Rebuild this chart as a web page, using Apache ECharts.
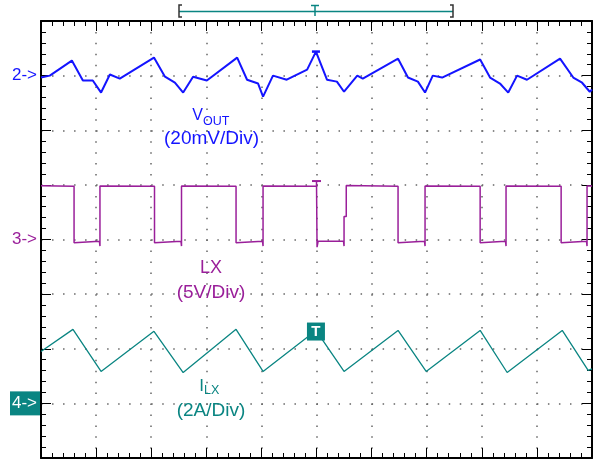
<!DOCTYPE html>
<html>
<head>
<meta charset="utf-8">
<script src="https://cdn.jsdelivr.net/npm/echarts@6/dist/echarts.min.js"></script>
<style>
html, body { margin: 0; padding: 0; background: #fff; }
#scope { width: 597px; height: 460px; }
</style>
</head>
<body>
<div id="scope"></div>
<script>
// 示波器截图：时间按格（div），各通道用自身单位
var vout = [[0,-0.7],[0.16,0],[0.56,5.5],[0.76,-1.8],[0.94,-1.8],[1.09,-6.2],[1.25,0.4],[1.43,-1.1],
    [2.05,6.6],[2.25,-0.4],[2.43,-2.6],[2.58,-6.2],[2.76,-0.4],[3.01,-1.8],[3.56,6.6],[3.74,-1.5],
    [3.94,-2.9],[4.03,-7.7],[4.21,0],[4.46,-1.5],[4.83,2.2],[4.99,8.8],[5.19,-1.5],[5.37,-2.2],
    [5.50,-5.9],[5.74,0],[5.84,-1.1],[6.48,6.2],[6.66,-0.7],[6.84,-2.2],[6.97,-6.2],[7.11,0],
    [7.28,-0.7],[7.97,5.9],[8.15,-0.7],[8.33,-2.9],[8.48,-6.2],[8.64,0],[8.82,-1.5],[9.42,6.2],
    [9.66,-0.7],[9.82,-2.6],[9.96,-5.9],[10,-5.1]];                         // mV
var lx = [[0,4.92],[0.60,4.88],[0.60,-0.3],[0.62,-0.15],[1.06,-0.15],[1.07,-0.6],[1.07,4.9],
    [2.06,4.88],[2.06,-0.3],[2.08,-0.15],[2.54,-0.15],[2.55,-0.6],[2.55,4.9],
    [3.54,4.88],[3.54,-0.3],[3.56,-0.15],[4.02,-0.15],[4.03,-0.6],[4.03,4.9],
    [5.00,4.88],[5.00,5.35],[5.01,-0.7],[5.03,-0.15],[5.49,-0.15],[5.50,-0.6],[5.50,2.1],[5.54,2.1],[5.54,4.95],
    [6.48,4.88],[6.48,-0.3],[6.50,-0.15],[6.96,-0.15],[6.97,-0.6],[6.97,4.9],
    [7.97,4.88],[7.97,-0.3],[7.99,-0.15],[8.43,-0.15],[8.44,-0.6],[8.44,4.9],
    [9.44,4.88],[9.44,-0.3],[9.46,-0.15],[9.90,-0.15],[9.91,-0.6],[9.91,4.9],[10,4.9]];   // V
var ilx = [[0,1.90],[0.58,2.71],[1.09,1.17],[2.05,2.64],[2.58,1.13],[3.54,2.71],[4.03,1.17],
    [4.99,2.67],[5.50,1.17],[6.48,2.67],[6.99,1.17],[7.97,2.67],[8.46,1.13],[9.46,2.67],
    [9.93,1.21],[10,1.26]];                                                  // A

var ch2 = {ref: 7, perDiv: 20, color: '#1414ff', name: '2->'};
var ch3 = {ref: 4, perDiv: 5, color: '#9a1f9a', name: '3->'};
var ch4 = {ref: 1, perDiv: 2, color: '#0a8582', name: '4->'};
var trigT = 4.99;

function toDiv(pts, ch) {
    return pts.map(function (p) { return [p[0], ch.ref + p[1] / ch.perDiv]; });
}

var FONT = 'Liberation Sans, Arial, sans-serif';
var scope = echarts.init(document.getElementById('scope'), null, {renderer: 'canvas'});

function xAx(pos, grid) {
    return {
        type: 'value', min: 0, max: 10, interval: 1, position: pos,
        axisLine: {onZero: false, lineStyle: {color: '#000', width: 2}},
        axisTick: {inside: true, length: 10, lineStyle: {color: '#000', width: 1}},
        minorTick: {show: true, splitNumber: 5, length: 5, lineStyle: {color: '#000', width: 1}},
        axisLabel: {show: false},
        splitLine: {show: grid, lineStyle: {color: '#666', width: 1.5, type: [1.5, 9.43]}}
    };
}
function yAx(pos, grid) {
    return {
        type: 'value', min: 0, max: 8, interval: 1, position: pos,
        axisLine: {onZero: false, lineStyle: {color: '#000', width: 2}},
        axisTick: {inside: true, length: 10, lineStyle: {color: '#000', width: 1}},
        minorTick: {show: true, splitNumber: 5, length: 5, lineStyle: {color: '#000', width: 1}},
        axisLabel: {show: false},
        splitLine: {show: grid, lineStyle: {color: '#666', width: 1.5, type: [1.5, 9.52]}}
    };
}

option = {
    animation: false,
    grid: {left: 41, top: 21, width: 551, height: 437},
    xAxis: [xAx('bottom', true), xAx('top', false)],
    yAxis: [yAx('left', true), yAx('right', false)],
    series: [
        {
            name: 'VOUT', type: 'line', showSymbol: false, data: toDiv(vout, ch2),
            lineStyle: {color: ch2.color, width: 2},
            markPoint: {
                symbol: 'rect', symbolSize: [8, 2.5], itemStyle: {color: ch2.color}, label: {show: false},
                data: [{coord: [trigT, ch2.ref + 8.8 / ch2.perDiv]}]
            }
        },
        {
            name: 'LX', type: 'line', showSymbol: false, data: toDiv(lx, ch3),
            lineStyle: {color: ch3.color, width: 1.5},
            markPoint: {
                symbol: 'rect', symbolSize: [9, 2], itemStyle: {color: ch3.color}, label: {show: false},
                data: [{coord: [5.0, ch3.ref + 5.35 / ch3.perDiv]}]
            }
        },
        {
            name: 'ILX', type: 'line', showSymbol: false, data: toDiv(ilx, ch4),
            lineStyle: {color: ch4.color, width: 1.3},
            markPoint: {
                symbol: 'rect', symbolSize: [18, 18], itemStyle: {color: ch4.color},
                label: {show: true, position: 'inside', formatter: 'T', color: '#fff',
                    fontFamily: FONT, fontSize: 15, fontWeight: 'bold'},
                data: [{coord: [trigT, ch4.ref + 2.63 / ch4.perDiv]}]
            }
        }
    ]
};
scope.setOption(option);

// 左侧通道标记、标签、顶部触发条
var y2 = scope.convertToPixel({yAxisIndex: 0}, ch2.ref);
var y3 = scope.convertToPixel({yAxisIndex: 0}, ch3.ref);
var y4 = scope.convertToPixel({yAxisIndex: 0}, ch4.ref);
var teal = ch4.color;

function txt(x, y, s, size, color, align) {
    return {type: 'text', x: x, y: y, style: {text: s, fill: color, font: size + 'px ' + FONT,
        align: align || 'center', verticalAlign: 'middle'}};
}

scope.setOption({
    graphic: [
        txt(37, y2, ch2.name, 17, ch2.color, 'right'),
        txt(37, y3, ch3.name, 17, ch3.color, 'right'),
        {type: 'rect', shape: {x: 10, y: y4 - 12, width: 30, height: 24}, style: {fill: teal}},
        txt(37, y4, ch4.name, 17, '#fff', 'right'),

        txt(203, 116, 'V', 16, ch2.color, 'right'),
        txt(203, 121.5, 'OUT', 12.5, ch2.color, 'left'),
        txt(211.5, 138.5, '(20mV/Div)', 19, ch2.color),

        txt(211, 268, 'LX', 18, ch3.color),
        txt(211, 293, '(5V/Div)', 19, ch3.color),

        txt(204, 386, 'I', 17, teal, 'right'),
        txt(204, 391, 'LX', 12.5, teal, 'left'),
        txt(211, 411, '(2A/Div)', 19, teal),

        {type: 'line', shape: {x1: 179, y1: 11.5, x2: 453, y2: 11.5}, style: {stroke: teal, lineWidth: 1.5}},
        {type: 'polyline', shape: {points: [[182, 5], [179, 5], [179, 17], [182, 17]]}, style: {stroke: '#333', lineWidth: 1.5, fill: null}},
        {type: 'polyline', shape: {points: [[450, 5], [453, 5], [453, 17], [450, 17]]}, style: {stroke: '#333', lineWidth: 1.5, fill: null}},
        {type: 'line', shape: {x1: 311, y1: 5.5, x2: 319, y2: 5.5}, style: {stroke: teal, lineWidth: 1.5}},
        {type: 'line', shape: {x1: 315, y1: 5, x2: 315, y2: 16}, style: {stroke: teal, lineWidth: 1.5}}
    ]
});
</script>
</body>
</html>
